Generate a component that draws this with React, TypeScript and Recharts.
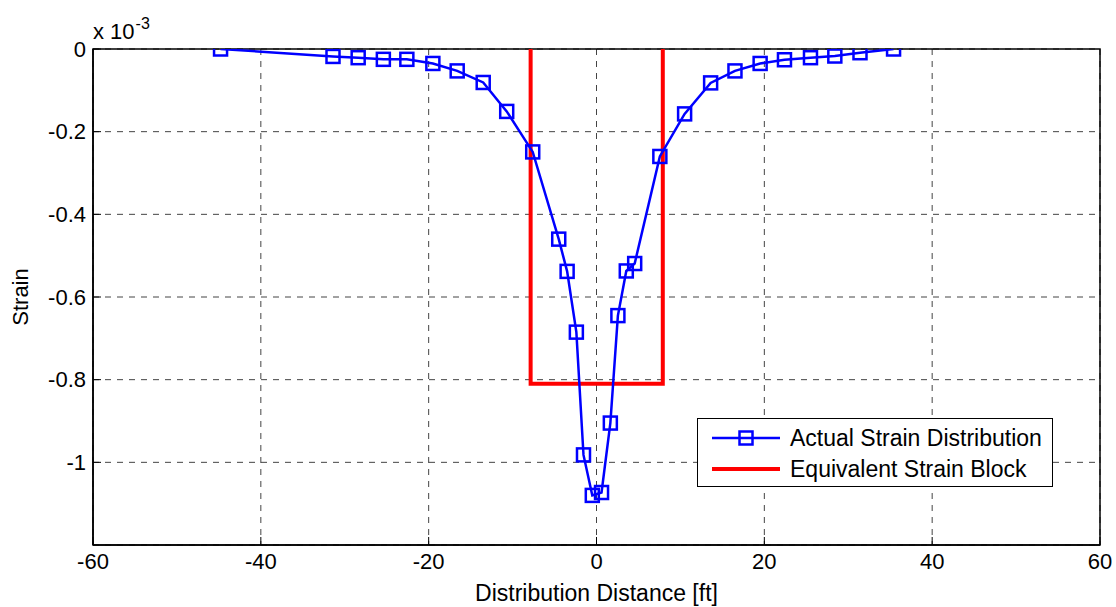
import { ScatterChart, Scatter, XAxis, YAxis, CartesianGrid, ReferenceArea, Label } from 'recharts'

// distance [ft]
const distX = [
  -44.8, -31.4, -28.4, -25.4, -22.6, -19.5, -16.6, -13.5, -10.7, -7.6,
  -4.5, -3.5, -2.4, -1.55, -0.5, 0.6, 1.65, 2.55, 3.55, 4.55,
  7.55, 10.5, 13.6, 16.5, 19.5, 22.4, 25.5, 28.4, 31.4, 35.4,
]
// strain (x 1e-3)
const strainY = [
  0, -0.018, -0.021, -0.025, -0.025, -0.035, -0.053, -0.081, -0.151, -0.249,
  -0.46, -0.538, -0.685, -0.982, -1.08, -1.073, -0.905, -0.645, -0.537, -0.519,
  -0.26, -0.157, -0.082, -0.053, -0.035, -0.026, -0.021, -0.017, -0.009, 0,
]
// equivalent block outline
const blockX = [-7.85, -7.85, 7.9, 7.9]
const blockY = [0, -0.81, -0.81, 0]

const xTicks = [-60, -40, -20, 0, 20, 40, 60]
const yTicks = [-1, -0.8, -0.6, -0.4, -0.2, 0]

const actual = distX.map((x, i) => ({ x, y: strainY[i] }))
const block = blockX.map((x, i) => ({ x, y: blockY[i] }))

const FONT = '"Liberation Sans", Arial, sans-serif'
const tickStyle = { fill: '#000', fontSize: 22, fontFamily: FONT }

function Square(props: any) {
  const { cx, cy } = props
  if (cx == null || cy == null) return <g />
  return <rect x={cx - 6.5} y={cy - 6.5} width={13} height={13} fill="none" stroke="#0000ff" strokeWidth={2.5} />
}

export default function App() {
  return (
    <div style={{ position: 'absolute', left: 0, top: 0, width: 1116, height: 607, background: '#fff', fontFamily: FONT }}>
      <ScatterChart width={1116} height={607} margin={{ top: 49, right: 16, bottom: 0, left: 0 }}>
        <CartesianGrid stroke="#444" strokeDasharray="6 6" />
        <XAxis
          dataKey="x" type="number" domain={[-60, 60]} ticks={xTicks}
          tick={tickStyle} tickLine={{ stroke: '#000' }} tickSize={-8} tickMargin={16}
          axisLine={{ stroke: '#000', strokeWidth: 1.5 }}
          height={62} allowDataOverflow
        >
          <Label value="Distribution Distance [ft]" position="insideBottom" offset={6}
            style={{ fill: '#000', fontSize: 23, fontFamily: FONT }} />
        </XAxis>
        <YAxis
          dataKey="y" type="number" domain={[-1.2, 0]} ticks={yTicks}
          tick={tickStyle} tickLine={{ stroke: '#000' }} tickSize={-8} tickMargin={15}
          axisLine={{ stroke: '#000', strokeWidth: 1.5 }}
          width={93} allowDataOverflow
          tickFormatter={(v: number) => String(Math.round(v * 10) / 10)}
        >
          <Label value="Strain" angle={-90} position="insideLeft" offset={20}
            style={{ fill: '#000', fontSize: 22, fontFamily: FONT, textAnchor: 'middle' }} />
        </YAxis>
        <ReferenceArea x1={-60} x2={60} y1={-1.2} y2={0} fill="none" stroke="#000" strokeWidth={1.5} />
        <Scatter data={block} line={{ stroke: '#ff0000', strokeWidth: 4 }} shape={() => <g />}
          isAnimationActive={false} />
        <Scatter data={actual} line={{ stroke: '#0000ff', strokeWidth: 2.5 }} shape={Square}
          isAnimationActive={false} />
      </ScatterChart>

      <div style={{ position: 'absolute', left: 93, top: 18, fontSize: 22, color: '#000', lineHeight: '28px', whiteSpace: 'nowrap' }}>
        x 10<sup style={{ fontSize: 16, position: 'relative', top: -10, verticalAlign: 'baseline', marginLeft: 1 }}>-3</sup>
      </div>

      <div style={{
        position: 'absolute', left: 697, top: 418, width: 356, height: 69,
        border: '1.5px solid #000', background: '#fff', boxSizing: 'border-box',
      }}>
        <svg width={356} height={69} style={{ position: 'absolute', left: 0, top: 0 }}>
          <line x1={14} x2={82} y1={19} y2={19} stroke="#0000ff" strokeWidth={2.5} />
          <rect x={41.5} y={12.5} width={13} height={13} fill="none" stroke="#0000ff" strokeWidth={2.5} />
          <line x1={14} x2={82} y1={50} y2={50} stroke="#ff0000" strokeWidth={4} />
          <text x={92} y={27} fontSize={23} fontFamily={FONT} fill="#000">Actual Strain Distribution</text>
          <text x={92} y={58} fontSize={23} fontFamily={FONT} fill="#000">Equivalent Strain Block</text>
        </svg>
      </div>
    </div>
  )
}
